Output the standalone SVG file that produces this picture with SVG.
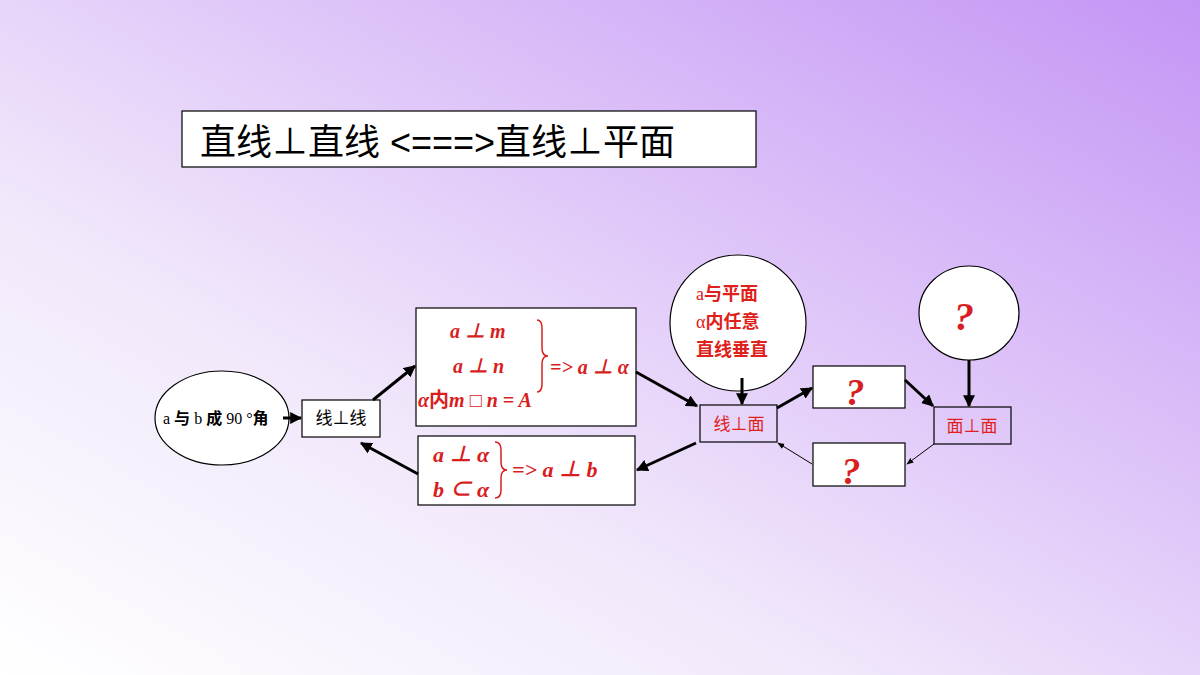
<svg xmlns="http://www.w3.org/2000/svg" width="1200" height="675" viewBox="0 0 1200 675">
<defs>
<linearGradient id="bg" x1="0" y1="1" x2="1" y2="0">
<stop offset="0" stop-color="#ffffff"/>
<stop offset="0.35" stop-color="#f1e8fb"/>
<stop offset="1" stop-color="#c495f5"/>
</linearGradient>
<marker id="ah" viewBox="0 0 10 10" refX="9" refY="5" markerWidth="4" markerHeight="4" orient="auto"><path d="M0,0 L10,5 L0,10 z" fill="#000"/></marker>
<marker id="ahs" viewBox="0 0 10 10" refX="9" refY="5" markerWidth="7" markerHeight="7" orient="auto"><path d="M0,1 L10,5 L0,9 z" fill="#000"/></marker>
</defs>
<style>
.box{fill:#fff;stroke:#000;stroke-width:1.2}
.pbox{fill:none;stroke:#000;stroke-width:1.2}
.t{font-family:"Liberation Sans","Noto Sans CJK SC",sans-serif}
.r{fill:#e0201a}
.m{font-family:"Liberation Serif","Noto Sans CJK SC",serif;font-style:italic;font-weight:bold;fill:#d81e1e}
.c{stroke:#000;stroke-width:3;fill:none;marker-end:url(#ah)}
.thin{stroke:#000;stroke-width:1;fill:none;marker-end:url(#ahs)}
</style>
<rect width="1200" height="675" fill="url(#bg)"/>
<g id="title"><rect class="box" x="182" y="111" width="574" height="56"/>
<text class="t" x="200" y="155" font-size="36">直线⊥直线 &lt;===&gt;直线⊥平面</text></g>
<g id="angle"><ellipse class="box" cx="222" cy="418" rx="67" ry="47"/>
<text x="163" y="424" font-size="16" font-family="Liberation Serif,Noto Sans CJK SC,serif">a <tspan font-weight="bold" font-family="Noto Sans CJK SC">与</tspan> b <tspan font-weight="bold" font-family="Noto Sans CJK SC">成</tspan> 90 °<tspan font-weight="bold" font-family="Noto Sans CJK SC">角</tspan></text></g>
<g id="ll"><rect class="box" x="302" y="400" width="78" height="37"/>
<text class="t" x="341" y="424" font-size="17" text-anchor="middle">线⊥线</text></g>
<g id="top"><rect class="box" x="416" y="308" width="220" height="118"/>
<text class="m" x="450" y="338" font-size="20">a ⊥ m</text>
<text class="m" x="453" y="373" font-size="20">a ⊥ n</text>
<text class="m" x="418" y="407" font-size="20">α<tspan font-family="Noto Sans CJK SC" font-style="normal" font-weight="bold">内</tspan>m □ n = A</text>
<path d="M537,320 q5,0 5,8 v20 q0,8 6,8 q-6,0 -6,8 v20 q0,8 -5,8" fill="none" stroke="#d81e1e" stroke-width="1.5"/>
<text class="m" x="550" y="374" font-size="20">=&gt; a ⊥ α</text></g>
<g id="bot"><rect class="box" x="418" y="436" width="217" height="69"/>
<text class="m" x="433" y="462" font-size="22">a ⊥ α</text>
<text class="m" x="433" y="497" font-size="22">b ⊂ α</text>
<path d="M495,442 q6,0 6,8 v12 q0,8 6,8 q-6,0 -6,8 v12 q0,8 -6,8" fill="none" stroke="#d81e1e" stroke-width="1.5"/>
<text class="m" x="512" y="477" font-size="22">=&gt; a ⊥ b</text></g>
<g id="circ1"><circle class="box" cx="738" cy="323" r="68"/>
<text x="696" y="300" font-size="18" font-weight="bold" class="r" font-family="Liberation Serif,Noto Sans CJK SC,serif"><tspan font-weight="normal">a</tspan><tspan font-family="Noto Sans CJK SC">与平面</tspan></text>
<text x="696" y="328" font-size="18" font-weight="bold" class="r" font-family="Liberation Serif,Noto Sans CJK SC,serif"><tspan font-weight="normal">α</tspan><tspan font-family="Noto Sans CJK SC">内任意</tspan></text>
<text x="696" y="356" font-size="18" font-weight="bold" class="r" font-family="Noto Sans CJK SC,sans-serif">直线垂直</text></g>
<g id="lp"><rect class="pbox" x="700" y="405" width="77" height="37"/>
<text class="t r" x="739" y="430" font-size="17" text-anchor="middle">线⊥面</text></g>
<g id="q1"><rect class="box" x="813" y="366" width="92" height="42"/>
<text class="m" x="855" y="405" font-size="38" fill="#e0301a" text-anchor="middle">?</text></g>
<g id="q2"><rect class="box" x="813" y="443" width="92" height="43"/>
<text class="m" x="851" y="484" font-size="38" fill="#e0301a" text-anchor="middle">?</text></g>
<g id="q3"><ellipse class="box" cx="969" cy="313" rx="50" ry="47"/>
<text class="m" x="964" y="330" font-size="40" fill="#e0301a" text-anchor="middle">?</text></g>
<g id="pp"><rect class="pbox" x="934" y="407" width="77" height="37"/>
<text class="t r" x="972" y="432" font-size="17" text-anchor="middle">面⊥面</text></g>
<g id="connectors">
<line class="c" x1="283" y1="418" x2="301" y2="418"/>
<line class="c" x1="373" y1="400" x2="415" y2="366"/>
<line class="c" x1="418" y1="474" x2="361" y2="443"/>
<line class="c" x1="636" y1="372" x2="697" y2="406"/>
<line class="c" x1="696" y1="443" x2="637" y2="470"/>
<line class="c" x1="742" y1="378" x2="742" y2="404"/>
<line class="c" x1="777" y1="408" x2="812" y2="388"/>
<line class="c" x1="905" y1="380" x2="933" y2="406"/>
<line class="c" x1="969" y1="360" x2="969" y2="406"/>
<line class="thin" x1="934" y1="444" x2="907" y2="464"/>
<line class="thin" x1="812" y1="464" x2="778" y2="443"/>
</g>
</svg>
